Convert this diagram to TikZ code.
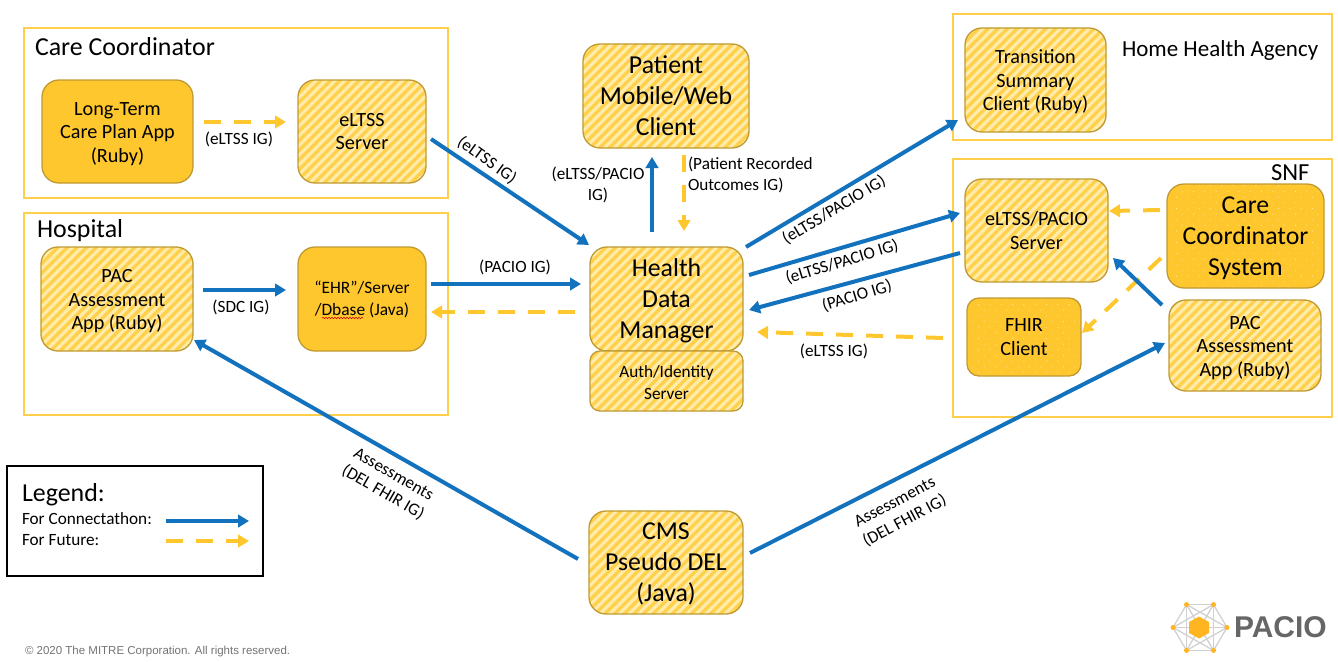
\documentclass[tikz,border=0pt]{standalone}
\usepackage{fontspec}
\setmainfont{Carlito}
\newfontfamily\arialf{Liberation Sans}
\usetikzlibrary{arrows.meta,patterns.meta,calc,decorations.pathmorphing}
\definecolor{cblue}{HTML}{1272BD}
\definecolor{cyel}{HTML}{FFC72E}
\definecolor{cframe}{HTML}{FFCE4A}
\definecolor{cedge}{HTML}{BF9A33}
\definecolor{clight}{HTML}{FFEBAA}
\definecolor{cstripe}{HTML}{FFD04A}
\definecolor{cdot}{HTML}{FFE699}
\newcommand{\nudgesm}{\rule{0pt}{18pt}}
\newcommand{\nudgelg}{\rule{0pt}{20.5pt}}
\newcommand{\nudgeau}{\rule{0pt}{15.5pt}}
\tikzset{
  x=1pt,y=-1pt,
  every node/.style={inner sep=0pt,outer sep=0pt,text=black},
  box/.style={rounded corners=17pt,draw=cedge,line width=1.3pt,align=center},
  solidbox/.style={box,fill=cyel},
  hatchbox/.style={box,preaction={fill=clight},pattern={Lines[angle=45,distance=6.8pt,line width=3.3pt]},pattern color=cstripe},
  dotbox/.style={box,preaction={fill=cyel},pattern={Dots[radius=0.6pt,distance=8pt,angle=45]},pattern color=cdot},
  frame/.style={draw=cframe,line width=2pt},
  future/.style={draw=cyel,line width=4pt,dash pattern=on 17pt off 13pt,-{Triangle[length=11pt,width=12.5pt]}},
  conn/.style={draw=cblue,line width=4pt,-{Triangle[length=11pt,width=12.5pt]}},
  sm/.style={font=\fontsize{20.2}{23.6}\selectfont},
  lg/.style={font=\fontsize{25.8}{31}\selectfont},
  lab/.style={font=\fontsize{17.2}{21}\selectfont,align=center},
  title/.style={font=\fontsize{25.9}{30}\selectfont,anchor=west},
}
\begin{document}
\begin{tikzpicture}
\useasboundingbox (0,0) rectangle (1338,661);
% frames
\node[frame,minimum width=424pt,minimum height=170pt] (careframe) at (236,113) {};
\node[frame,minimum width=424pt,minimum height=202pt] (hospframe) at (236,314) {};
\node[frame,minimum width=379pt,minimum height=126pt] (homeframe) at (1142.5,77) {};
\node[frame,minimum width=379pt,minimum height=258pt] (snfframe) at (1142.5,288) {};
\node[title] (caretitle) at (35,47) {Care Coordinator};
\node[title] (hosptitle) at (37,231) {Hospital};
\node[title,font=\fontsize{23}{27}\selectfont] (hometitle) at (1122,50) {Home Health Agency};
\node[title,font=\fontsize{24.5}{29}\selectfont] (snftitle) at (1271,173) {SNF};
% boxes
\node[solidbox,sm,minimum width=151pt,minimum height=103pt] (ltc) at (117.5,131.5) {\nudgesm Long-Term\\Care Plan App\\(Ruby)};
\node[hatchbox,sm,minimum width=128pt,minimum height=103pt] (eltss) at (362,131.5) {eLTSS\\Server};
\node[hatchbox,sm,minimum width=152pt,minimum height=104pt] (pac) at (117,299) {\nudgesm PAC\\Assessment\\App (Ruby)};
\node[solidbox,font=\fontsize{17.4}{22}\selectfont,minimum width=128pt,minimum height=104pt] (ehr) at (362,299) {“EHR”/Server\\/Dbase (Java)};
\node[hatchbox,lg,minimum width=166pt,minimum height=104pt] (patient) at (666,96) {Patient\\Mobile/Web\\Client};
\node[hatchbox,sm,minimum width=141pt,minimum height=104pt] (trans) at (1035.5,80) {\nudgesm Transition\\Summary\\Client (Ruby)};
\node[hatchbox,sm,minimum width=143pt,minimum height=103pt] (server) at (1036.5,230.5) {eLTSS/PACIO\\Server};
\node[dotbox,lg,minimum width=157pt,minimum height=104pt] (ccs) at (1245.5,236) {\nudgelg Care\\Coordinator\\System};
\node[dotbox,sm,rounded corners=12pt,minimum width=114pt,minimum height=78pt] (fhir) at (1024,337) {FHIR\\Client};
\node[hatchbox,sm,minimum width=152pt,minimum height=91pt] (pactwo) at (1245,345.5) {\nudgesm PAC\\Assessment\\App (Ruby)};
\node[hatchbox,lg,minimum width=153pt,minimum height=104pt] (hdm) at (666.5,299) {\nudgelg Health\\Data\\Manager};
\node[hatchbox,font=\fontsize{17.2}{22}\selectfont,rounded corners=10pt,minimum width=153pt,minimum height=60pt] (auth) at (666.5,381) {\nudgeau Auth/Identity\\Server};
\node[hatchbox,lg,minimum width=154pt,minimum height=103pt] (cms) at (666,562.5) {\nudgelg CMS\\Pseudo DEL\\(Java)};
% spell-check underline
\coordinate (wavea) at ($(ehr.center)+(-40,19)$);
\coordinate (waveb) at ($(ehr.center)+(1,19)$);
\draw[red!80!black,line width=.5pt,decorate,decoration={snake,amplitude=.7pt,segment length=3pt}] (wavea) -- (waveb);
% connector ends
\coordinate (a1) at ($(ltc.east)+(11,-9.5)$);   \coordinate (a2) at ($(eltss.west)+(-12,-9.5)$);
\coordinate (b1) at ($(pac.east)+(10,-9)$);     \coordinate (b2) at ($(ehr.west)+(-12,-9)$);
\coordinate (c1) at ($(eltss.east)+(5,7.5)$);   \coordinate (c2) at ($(hdm.north west)+(-1,-2)$);
\coordinate (d1) at ($(ehr.east)+(5,-15)$);     \coordinate (d2) at ($(hdm.west)+(-9,-15)$);
\coordinate (e1) at ($(hdm.west)+(-15,13)$);    \coordinate (e2) at ($(ehr.east)+(5,13)$);
\coordinate (f1) at ($(hdm.north)+(-14.5,-15)$);\coordinate (f2) at ($(patient.south)+(-14,9)$);
\coordinate (g1) at ($(patient.south)+(18,7)$); \coordinate (g2) at ($(hdm.north)+(17.5,-16)$);
\coordinate (h1) at ($(hdm.north east)+(3,0)$); \coordinate (h2) at ($(homeframe.south west)+(5,-20)$);
\coordinate (i1) at ($(hdm.east)+(6,-24)$);     \coordinate (i2) at ($(server.west)+(-5,-17.5)$);
\coordinate (j1) at ($(server.west)+(-5,22.5)$);\coordinate (j2) at ($(hdm.east)+(6,11)$);
\coordinate (k1) at ($(snfframe.west)+(-10,50)$);\coordinate (k2) at ($(hdm.east)+(14,33)$);
\coordinate (l1) at ($(ccs.west)+(-7,-26)$);    \coordinate (l2) at ($(server.east)+(1,-19.5)$);
\coordinate (m1) at ($(ccs.west)+(-6,22)$);     \coordinate (m2) at ($(fhir.east)+(1,-4)$);
\coordinate (n1) at ($(pactwo.north west)+(-7,5)$);\coordinate (n2) at ($(server.south east)+(5,-24)$);
\coordinate (o1) at ($(cms.east)+(7,-9.5)$);    \coordinate (o2) at ($(pactwo.west)+(-4,-2.5)$);
\coordinate (p1) at ($(cms.west)+(-11,-3.5)$);  \coordinate (p2) at ($(pac.south east)+(1,-11)$);
% connectors
\draw[future] (a1) -- (a2);
\draw[conn] (b1) -- (b2);
\draw[conn] (c1) -- (c2);
\draw[conn] (d1) -- (d2);
\draw[future] (e1) -- (e2);
\draw[conn] (f1) -- (f2);
\draw[future] (g1) -- (g2);
\draw[conn] (h1) -- (h2);
\draw[conn] (i1) -- (i2);
\draw[conn] (j1) -- (j2);
\draw[future] (k1) -- (k2);
\draw[future] (l1) -- (l2);
\draw[future] (m1) -- (m2);
\draw[conn] (n1) -- (n2);
\draw[conn] (o1) -- (o2);
\draw[conn] (p1) -- (p2);
% connector labels
\node[lab] (la) at (239,139.5) {(eLTSS IG)};
\node[lab] (lb) at (241,307.5) {(SDC IG)};
\node[lab,rotate=-36] (lc) at (487,160) {(eLTSS IG)};
\node[lab] (ld) at (515,267) {(PACIO IG)};
\node[lab] (lf) at (598,184.5) {(eLTSS/PACIO\\IG)};
\node[lab,align=left,anchor=west] (lg) at (688,174.5) {(Patient Recorded\\Outcomes IG)};
\node[lab,rotate=31] (lh) at (834,210) {(eLTSS/PACIO IG)};
\node[lab,rotate=17] (li) at (842,262) {(eLTSS/PACIO IG)};
\node[lab,rotate=17] (lj) at (857,296) {(PACIO IG)};
\node[lab] (lk) at (834,351) {(eLTSS IG)};
\node[lab,rotate=-30] (lp) at (388,484) {Assessments\\(DEL FHIR IG)};
\node[lab,rotate=28] (lo) at (900,512) {Assessments\\(DEL FHIR IG)};
% legend
\node[draw=black,line width=1.8pt,minimum width=256pt,minimum height=110pt] (legend) at (135,521) {};
\node[title] (legtitle) at (22,495) {Legend:};
\node[lab,anchor=west] (legc) at (22,519) {For Connectathon:};
\node[lab,anchor=west] (legf) at (22,540) {For Future:};
\coordinate (qa) at (166,521); \coordinate (qb) at (249,521);
\coordinate (ra) at (166,541); \coordinate (rb) at (249,541);
\draw[conn] (qa) -- (qb);
\draw[future] (ra) -- (rb);
% footer
\node[anchor=west,font=\arialf\fontsize{11.5}{14}\selectfont,text=black!55] (copy) at (25,652) {© 2020 The MITRE Corporation. All rights reserved.};
% logo
\foreach \i in {0,...,5}{\coordinate (v\i) at ($(1200,627.5)+({27*cos(60*\i)},{-26.5*sin(60*\i)})$);}
\foreach \i in {0,...,5}{\foreach \j in {0,...,5}{\draw[black!18,line width=1pt] (v\i) -- (v\j);}}
\fill[cyel!75!orange] (1199,616.5) -- (1209,622) -- (1209,633) -- (1199,638.5) -- (1189,633) -- (1189,622) -- cycle;
\foreach \i in {0,...,5}{\fill[cyel!75!orange] (v\i) circle (2.5pt);}
\node[anchor=west,font=\arialf\bfseries\fontsize{30}{32}\selectfont,text=black!60] (pacio) at (1234,627) {PACIO};
\end{tikzpicture}
\end{document}
